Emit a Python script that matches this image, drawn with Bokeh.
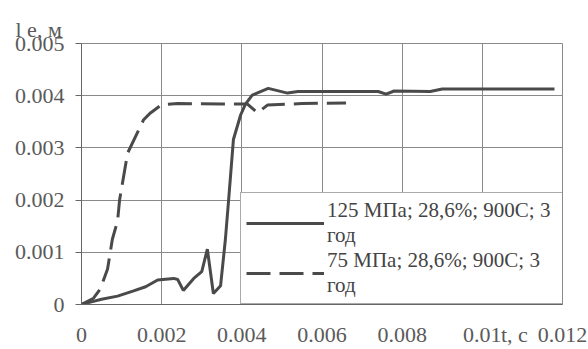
from bokeh.plotting import figure
from bokeh.models import FixedTicker, Legend, LegendItem, ColumnDataSource
from bokeh.embed import file_html
from bokeh.resources import INLINE

# ---- data ----
t_125 = [0, 0.0002, 0.0005, 0.0009, 0.0013, 0.0016, 0.0019, 0.0023, 0.0024, 0.00254,
         0.0028, 0.0030, 0.00314, 0.00329, 0.00347, 0.00359, 0.00367, 0.00379, 0.00397,
         0.00409, 0.00426, 0.00466, 0.00514, 0.0054, 0.0074, 0.0076, 0.0078, 0.0087,
         0.0090, 0.0118]
l_125 = [0, 0.00004, 0.0001, 0.00016, 0.00026, 0.00034, 0.00047, 0.0005, 0.00048, 0.00027,
         0.0005, 0.00063, 0.00106, 0.00021, 0.00036, 0.00125, 0.0020, 0.00316, 0.00363,
         0.00384, 0.00401, 0.00414, 0.00405, 0.00408, 0.00408, 0.00403, 0.00409, 0.00408,
         0.00413, 0.00413]

t_75 = [0, 0.0003, 0.00047, 0.00065, 0.00077, 0.0009, 0.00095, 0.00115, 0.00155, 0.00172,
        0.0020, 0.0024, 0.0035, 0.00414, 0.00439, 0.00464, 0.0055, 0.0066]
l_75 = [0, 0.00012, 0.0003, 0.00068, 0.00125, 0.0016, 0.0020, 0.0029, 0.00354, 0.00367,
        0.00383, 0.00385, 0.00384, 0.00384, 0.00367, 0.00382, 0.00385, 0.00386]

x_ticks = [0, 0.002, 0.004, 0.006, 0.008, 0.01, 0.012]
x_tick_labels = ["0", "0.002", "0.004", "0.006", "0.008", "0.01", "0.012"]
y_ticks = [0, 0.001, 0.002, 0.003, 0.004, 0.005]
y_tick_labels = ["0", "0.001", "0.002", "0.003", "0.004", "0.005"]

label_125 = "125 МПа; 28,6%; 900С; 3\nгод"
label_75 = "75 МПа; 28,6%; 900С; 3\nгод"
x_title = "t, c"
x_title_at = 0.0108           # the reference squeezes the axis title between 0.01 and 0.012
y_title = "l е, м"

FONT = "Liberation Serif"
TEXT = "#5a5a5a"
LINE = "#4a4a4a"

p = figure(width=588, height=349, output_backend="svg", toolbar_location=None,
           x_range=(0, 0.012), y_range=(0, 0.005),
           min_border_left=81, min_border_right=26, min_border_top=43, min_border_bottom=43)
p.background_fill_color = "white"
p.border_fill_color = "white"
p.outline_line_color = "#8a8a8a"

# y-axis title shown at the top-left, as in the reference
p.title.text = y_title
p.title.align = "left"
p.title.offset = -66
p.title.standoff = 3
p.title.text_font = FONT
p.title.text_font_size = "22px"
p.title.text_font_style = "normal"
p.title.text_color = TEXT

axis_x_ticks = x_ticks + [x_title_at]
p.xaxis.ticker = FixedTicker(ticks=axis_x_ticks)
p.yaxis.ticker = FixedTicker(ticks=y_ticks)
overrides = {t: s for t, s in zip(x_ticks, x_tick_labels)}
overrides[x_title_at] = x_title
p.xaxis.major_label_overrides = overrides
p.yaxis.major_label_overrides = {t: s for t, s in zip(y_ticks, y_tick_labels)}
for ax in (p.xaxis, p.yaxis):
    ax.major_label_text_font = FONT
    ax.major_label_text_font_size = "22px"
    ax.major_label_text_color = TEXT
    ax.axis_line_color = "#666666"
    ax.major_tick_line_color = "#666666"
    ax.minor_tick_line_color = None
    ax.major_tick_in = 0
p.xaxis.major_tick_out = 0
p.xaxis.major_label_standoff = 17
p.yaxis.major_tick_out = 6
p.yaxis.major_label_standoff = 11

p.xgrid.ticker = FixedTicker(ticks=x_ticks)
p.ygrid.ticker = FixedTicker(ticks=y_ticks)
p.grid.grid_line_color = "#8a8a8a"
p.grid.grid_line_width = 1

src125 = ColumnDataSource(dict(t=t_125, l=l_125))
src75 = ColumnDataSource(dict(t=t_75, l=l_75))
r1 = p.line("t", "l", source=src125, line_color=LINE, line_width=3)
r2 = p.line("t", "l", source=src75, line_color=LINE, line_width=3, line_dash="24 9")

legend = Legend(items=[LegendItem(label=label_125, renderers=[r1]),
                       LegendItem(label=label_75, renderers=[r2])],
                location=(159, 0), glyph_width=78, glyph_height=20,
                label_text_font=FONT, label_text_font_size="21px",
                label_text_color="#444444", label_text_line_height=0.96,
                label_standoff=3, label_width=230, padding=5, spacing=0, margin=0,
                border_line_color="#555555", border_line_width=1,
                background_fill_color="white", background_fill_alpha=1)
p.add_layout(legend)

open("out.html", "w").write(file_html(p, INLINE))
